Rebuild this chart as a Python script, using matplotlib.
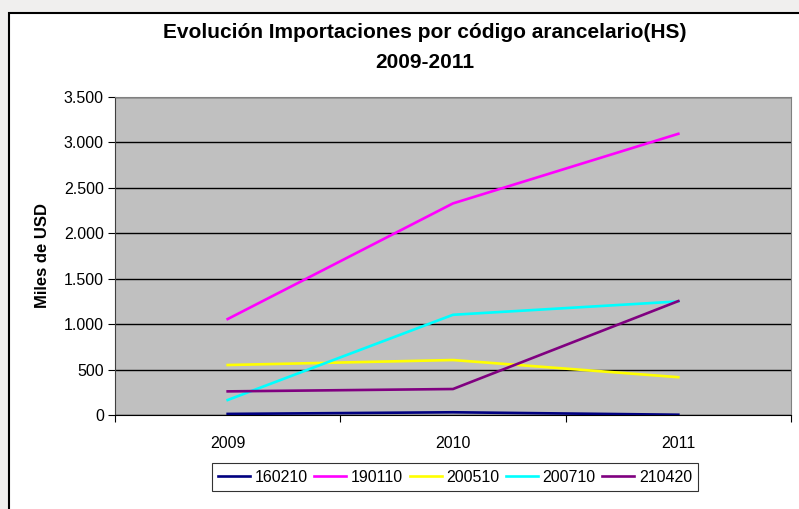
import matplotlib
matplotlib.use("Agg")
import matplotlib.pyplot as plt
from matplotlib.patches import Rectangle
from matplotlib.ticker import FuncFormatter, MultipleLocator

plt.rcParams["font.family"] = ["Liberation Sans", "DejaVu Sans"]

# ── data (miles de USD) ───────────────────────────────────────────────────────
years = ["2009", "2010", "2011"]
codes = ["160210", "190110", "200510", "200710", "210420"]
v_160210 = [12, 30, 3]
v_190110 = [1056, 2329, 3095]
v_200510 = [550, 605, 416]
v_200710 = [165, 1103, 1250]
v_210420 = [260, 286, 1254]
colors = ["#000080", "#ff00ff", "#ffff00", "#00ffff", "#800080"]

W, H = 799, 509
fig = plt.figure(figsize=(W / 100, H / 100), dpi=100)
fig.patch.set_facecolor("#f0efee")

# white chart area with black frame (runs past the right/bottom edge)
fig.patches.append(Rectangle((9 / W, -0.1), 1.0, (H - 13) / H + 0.1,
                             transform=fig.transFigure, facecolor="white",
                             edgecolor="black", linewidth=1.5, zorder=-5))

ax = fig.add_axes([115 / W, 1 - 415 / H, (791 - 115) / W, (415 - 97) / H])
ax.set_facecolor("#c0c0c0")

x = range(len(years))
for vals, code, c in zip([v_160210, v_190110, v_200510, v_200710, v_210420], codes, colors):
    ax.plot(x, vals, color=c, linewidth=1.9, label=code, zorder=3)

ax.set_xlim(-0.5, 2.5)
ax.set_ylim(0, 3500)
ax.yaxis.set_major_locator(MultipleLocator(500))
ax.yaxis.set_major_formatter(FuncFormatter(lambda v, _: f"{int(v):,}".replace(",", ".")))
ax.grid(axis="y", color="black", linewidth=1.0, zorder=1)

# category labels centred, ticks on boundaries
ax.set_xticks([-0.5, 0.5, 1.5, 2.5])
ax.set_xticklabels([])
ax.set_xticks(list(x), minor=True)
ax.set_xticklabels(years, minor=True, fontsize=11.5)
ax.tick_params(axis="x", which="minor", length=0, pad=15)
ax.tick_params(axis="x", which="major", length=5, direction="out", color="black")
ax.tick_params(axis="y", length=5, direction="out", labelsize=11.5, pad=3)

for side in ["top", "right"]:
    ax.spines[side].set_color("#808080")
ax.spines["left"].set_color("#404040")
ax.spines["bottom"].set_color("black")

ax.set_ylabel("Miles de USD", fontsize=12, fontweight="bold", labelpad=10)

fig.text(425 / W, 1 - 33 / H, "Evolución Importaciones por código arancelario(HS)",
         ha="center", va="center", fontsize=15, fontweight="bold")
fig.text(425 / W, 1 - 63 / H, "2009-2011",
         ha="center", va="center", fontsize=15, fontweight="bold")

leg = ax.legend(loc="center", bbox_to_anchor=(455 / W, 1 - 477 / H),
                bbox_transform=fig.transFigure, ncol=5, fontsize=11.5,
                frameon=True, fancybox=False, edgecolor="black",
                handlelength=2.0, handletextpad=0.3, columnspacing=0.4,
                borderpad=0.4)
leg.get_frame().set_linewidth(0.8)

fig.savefig("out.png", dpi=100)
